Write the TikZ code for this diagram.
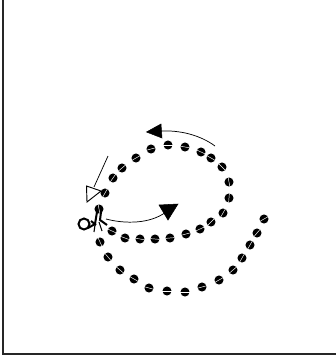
\documentclass[tikz,border=0pt]{standalone}
\usepackage{tikz}
\usetikzlibrary{arrows.meta}
\tikzset{
  px/.style={x=0.75pt, y=-0.75pt},
  frameline/.style={line width=1.5pt, black!85},
  bead/.style={circle, fill=black, inner sep=0pt, minimum size=6.8pt},
  slit/.style={white, line width=0.35pt},
  pointer/.style={line width=0.55pt},
  solidhead/.style={fill=black, draw=black, line join=miter},
  openhead/.style={fill=white, draw=black, line width=0.7pt},
  scissorline/.style={line width=1.5pt}
}
\begin{document}
\begin{tikzpicture}[px]
  \useasboundingbox (0,0) rectangle (336,358);
  \draw[frameline] (3.5,0) -- (3.5,354) -- (336,354);
  % beads along the spiral: x/y/slit angle
  \foreach \bx/\by/\ang [count=\i] in {
    105/193/60, 113/178/55, 122/168/40, 136/158/30, 151/149/15, 168/145/0, 185/147/-10,
    201/152/-25, 211/158/-30, 222/167/-45, 229/182/-80, 229/198/85, 223/213/60, 211/222/45,
    200/229/25, 186/234/15, 170/238/5, 155/239/-5, 140/239/-10, 125/238/-20, 112/231/-25,
    99/209/-80, 100/242/-65, 108/257/-50, 120/270/-40, 134/279/-30, 149/288/-15, 167/291/0,
    185/292/0, 202/287/15, 219/280/30, 233/270/40, 242/258/60, 250/245/60, 257/233/50, 264/219/30}
  {
    \node[bead] (b\i) at (\bx,\by) {};
    \draw[slit] (b\i.center) ++(\ang:-3.4pt) -- ++(\ang:6.8pt);
  }
  % open triangle and its pointer
  \coordinate (opentail) at (108,156);
  \node[coordinate] (opentip) at (101,191) {};
  \draw[pointer] (opentail) -- (94,187);
  \draw[openhead] (86.5,186) -- (opentip) -- (87,202) -- cycle;
  % curved arrows
  \coordinate (uppertail) at (215,146);
  \coordinate (lowertail) at (106,219);
  \draw[pointer] (uppertail) .. controls (200,135) and (180,130) .. (160,131);
  \draw[solidhead] (146.5,132) -- (161,124) -- (162,138) -- cycle;
  \draw[pointer] (lowertail) .. controls (125,224) and (150,224) .. (166,212);
  \draw[solidhead] (159,205) -- (178,204) -- (168,220) -- cycle;
  % scissors
  \draw[scissorline] (84,224) circle (5.5);
  \draw[scissorline] (97,212) -- (95,224) -- (88,228);
  \draw[scissorline] (101,212) -- (100,220) -- (107,225);
  \draw[scissorline] (91,221) -- (96,225);
  \draw[line width=0.8pt] (95,225) -- (94,232) (99,222) -- (102,231);
\end{tikzpicture}
\end{document}
